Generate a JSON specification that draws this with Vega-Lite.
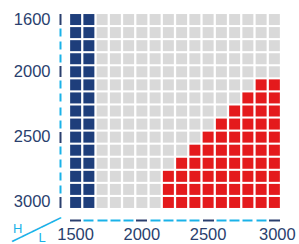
{
  "$schema": "https://vega.github.io/schema/vega-lite/v6.json",
  "width": 212,
  "height": 196,
  "autosize": "none",
  "padding": {"left": 69, "top": 13, "right": 18, "bottom": 35},
  "background": "white",
  "config": {"view": {"stroke": null}},
  "title": {"text": "H", "orient": "bottom", "anchor": "start", "frame": "group", "font": "Liberation Sans", "fontSize": 13, "fontWeight": "normal", "color": "#1ab2e8", "dx": -56, "dy": -27, "offset": 0},
  "data": {"values": [
{"L":1500,"H":1600,"c":"b"},{"L":1600,"H":1600,"c":"b"},{"L":1700,"H":1600,"c":"g"},{"L":1800,"H":1600,"c":"g"},{"L":1900,"H":1600,"c":"g"},{"L":2000,"H":1600,"c":"g"},{"L":2100,"H":1600,"c":"g"},{"L":2200,"H":1600,"c":"g"},{"L":2300,"H":1600,"c":"g"},{"L":2400,"H":1600,"c":"g"},{"L":2500,"H":1600,"c":"g"},{"L":2600,"H":1600,"c":"g"},{"L":2700,"H":1600,"c":"g"},{"L":2800,"H":1600,"c":"g"},{"L":2900,"H":1600,"c":"g"},{"L":3000,"H":1600,"c":"g"},
{"L":1500,"H":1700,"c":"b"},{"L":1600,"H":1700,"c":"b"},{"L":1700,"H":1700,"c":"g"},{"L":1800,"H":1700,"c":"g"},{"L":1900,"H":1700,"c":"g"},{"L":2000,"H":1700,"c":"g"},{"L":2100,"H":1700,"c":"g"},{"L":2200,"H":1700,"c":"g"},{"L":2300,"H":1700,"c":"g"},{"L":2400,"H":1700,"c":"g"},{"L":2500,"H":1700,"c":"g"},{"L":2600,"H":1700,"c":"g"},{"L":2700,"H":1700,"c":"g"},{"L":2800,"H":1700,"c":"g"},{"L":2900,"H":1700,"c":"g"},{"L":3000,"H":1700,"c":"g"},
{"L":1500,"H":1800,"c":"b"},{"L":1600,"H":1800,"c":"b"},{"L":1700,"H":1800,"c":"g"},{"L":1800,"H":1800,"c":"g"},{"L":1900,"H":1800,"c":"g"},{"L":2000,"H":1800,"c":"g"},{"L":2100,"H":1800,"c":"g"},{"L":2200,"H":1800,"c":"g"},{"L":2300,"H":1800,"c":"g"},{"L":2400,"H":1800,"c":"g"},{"L":2500,"H":1800,"c":"g"},{"L":2600,"H":1800,"c":"g"},{"L":2700,"H":1800,"c":"g"},{"L":2800,"H":1800,"c":"g"},{"L":2900,"H":1800,"c":"g"},{"L":3000,"H":1800,"c":"g"},
{"L":1500,"H":1900,"c":"b"},{"L":1600,"H":1900,"c":"b"},{"L":1700,"H":1900,"c":"g"},{"L":1800,"H":1900,"c":"g"},{"L":1900,"H":1900,"c":"g"},{"L":2000,"H":1900,"c":"g"},{"L":2100,"H":1900,"c":"g"},{"L":2200,"H":1900,"c":"g"},{"L":2300,"H":1900,"c":"g"},{"L":2400,"H":1900,"c":"g"},{"L":2500,"H":1900,"c":"g"},{"L":2600,"H":1900,"c":"g"},{"L":2700,"H":1900,"c":"g"},{"L":2800,"H":1900,"c":"g"},{"L":2900,"H":1900,"c":"g"},{"L":3000,"H":1900,"c":"g"},
{"L":1500,"H":2000,"c":"b"},{"L":1600,"H":2000,"c":"b"},{"L":1700,"H":2000,"c":"g"},{"L":1800,"H":2000,"c":"g"},{"L":1900,"H":2000,"c":"g"},{"L":2000,"H":2000,"c":"g"},{"L":2100,"H":2000,"c":"g"},{"L":2200,"H":2000,"c":"g"},{"L":2300,"H":2000,"c":"g"},{"L":2400,"H":2000,"c":"g"},{"L":2500,"H":2000,"c":"g"},{"L":2600,"H":2000,"c":"g"},{"L":2700,"H":2000,"c":"g"},{"L":2800,"H":2000,"c":"g"},{"L":2900,"H":2000,"c":"g"},{"L":3000,"H":2000,"c":"g"},
{"L":1500,"H":2100,"c":"b"},{"L":1600,"H":2100,"c":"b"},{"L":1700,"H":2100,"c":"g"},{"L":1800,"H":2100,"c":"g"},{"L":1900,"H":2100,"c":"g"},{"L":2000,"H":2100,"c":"g"},{"L":2100,"H":2100,"c":"g"},{"L":2200,"H":2100,"c":"g"},{"L":2300,"H":2100,"c":"g"},{"L":2400,"H":2100,"c":"g"},{"L":2500,"H":2100,"c":"g"},{"L":2600,"H":2100,"c":"g"},{"L":2700,"H":2100,"c":"g"},{"L":2800,"H":2100,"c":"g"},{"L":2900,"H":2100,"c":"r"},{"L":3000,"H":2100,"c":"r"},
{"L":1500,"H":2200,"c":"b"},{"L":1600,"H":2200,"c":"b"},{"L":1700,"H":2200,"c":"g"},{"L":1800,"H":2200,"c":"g"},{"L":1900,"H":2200,"c":"g"},{"L":2000,"H":2200,"c":"g"},{"L":2100,"H":2200,"c":"g"},{"L":2200,"H":2200,"c":"g"},{"L":2300,"H":2200,"c":"g"},{"L":2400,"H":2200,"c":"g"},{"L":2500,"H":2200,"c":"g"},{"L":2600,"H":2200,"c":"g"},{"L":2700,"H":2200,"c":"g"},{"L":2800,"H":2200,"c":"r"},{"L":2900,"H":2200,"c":"r"},{"L":3000,"H":2200,"c":"r"},
{"L":1500,"H":2300,"c":"b"},{"L":1600,"H":2300,"c":"b"},{"L":1700,"H":2300,"c":"g"},{"L":1800,"H":2300,"c":"g"},{"L":1900,"H":2300,"c":"g"},{"L":2000,"H":2300,"c":"g"},{"L":2100,"H":2300,"c":"g"},{"L":2200,"H":2300,"c":"g"},{"L":2300,"H":2300,"c":"g"},{"L":2400,"H":2300,"c":"g"},{"L":2500,"H":2300,"c":"g"},{"L":2600,"H":2300,"c":"g"},{"L":2700,"H":2300,"c":"r"},{"L":2800,"H":2300,"c":"r"},{"L":2900,"H":2300,"c":"r"},{"L":3000,"H":2300,"c":"r"},
{"L":1500,"H":2400,"c":"b"},{"L":1600,"H":2400,"c":"b"},{"L":1700,"H":2400,"c":"g"},{"L":1800,"H":2400,"c":"g"},{"L":1900,"H":2400,"c":"g"},{"L":2000,"H":2400,"c":"g"},{"L":2100,"H":2400,"c":"g"},{"L":2200,"H":2400,"c":"g"},{"L":2300,"H":2400,"c":"g"},{"L":2400,"H":2400,"c":"g"},{"L":2500,"H":2400,"c":"g"},{"L":2600,"H":2400,"c":"r"},{"L":2700,"H":2400,"c":"r"},{"L":2800,"H":2400,"c":"r"},{"L":2900,"H":2400,"c":"r"},{"L":3000,"H":2400,"c":"r"},
{"L":1500,"H":2500,"c":"b"},{"L":1600,"H":2500,"c":"b"},{"L":1700,"H":2500,"c":"g"},{"L":1800,"H":2500,"c":"g"},{"L":1900,"H":2500,"c":"g"},{"L":2000,"H":2500,"c":"g"},{"L":2100,"H":2500,"c":"g"},{"L":2200,"H":2500,"c":"g"},{"L":2300,"H":2500,"c":"g"},{"L":2400,"H":2500,"c":"g"},{"L":2500,"H":2500,"c":"r"},{"L":2600,"H":2500,"c":"r"},{"L":2700,"H":2500,"c":"r"},{"L":2800,"H":2500,"c":"r"},{"L":2900,"H":2500,"c":"r"},{"L":3000,"H":2500,"c":"r"},
{"L":1500,"H":2600,"c":"b"},{"L":1600,"H":2600,"c":"b"},{"L":1700,"H":2600,"c":"g"},{"L":1800,"H":2600,"c":"g"},{"L":1900,"H":2600,"c":"g"},{"L":2000,"H":2600,"c":"g"},{"L":2100,"H":2600,"c":"g"},{"L":2200,"H":2600,"c":"g"},{"L":2300,"H":2600,"c":"g"},{"L":2400,"H":2600,"c":"r"},{"L":2500,"H":2600,"c":"r"},{"L":2600,"H":2600,"c":"r"},{"L":2700,"H":2600,"c":"r"},{"L":2800,"H":2600,"c":"r"},{"L":2900,"H":2600,"c":"r"},{"L":3000,"H":2600,"c":"r"},
{"L":1500,"H":2700,"c":"b"},{"L":1600,"H":2700,"c":"b"},{"L":1700,"H":2700,"c":"g"},{"L":1800,"H":2700,"c":"g"},{"L":1900,"H":2700,"c":"g"},{"L":2000,"H":2700,"c":"g"},{"L":2100,"H":2700,"c":"g"},{"L":2200,"H":2700,"c":"g"},{"L":2300,"H":2700,"c":"r"},{"L":2400,"H":2700,"c":"r"},{"L":2500,"H":2700,"c":"r"},{"L":2600,"H":2700,"c":"r"},{"L":2700,"H":2700,"c":"r"},{"L":2800,"H":2700,"c":"r"},{"L":2900,"H":2700,"c":"r"},{"L":3000,"H":2700,"c":"r"},
{"L":1500,"H":2800,"c":"b"},{"L":1600,"H":2800,"c":"b"},{"L":1700,"H":2800,"c":"g"},{"L":1800,"H":2800,"c":"g"},{"L":1900,"H":2800,"c":"g"},{"L":2000,"H":2800,"c":"g"},{"L":2100,"H":2800,"c":"g"},{"L":2200,"H":2800,"c":"r"},{"L":2300,"H":2800,"c":"r"},{"L":2400,"H":2800,"c":"r"},{"L":2500,"H":2800,"c":"r"},{"L":2600,"H":2800,"c":"r"},{"L":2700,"H":2800,"c":"r"},{"L":2800,"H":2800,"c":"r"},{"L":2900,"H":2800,"c":"r"},{"L":3000,"H":2800,"c":"r"},
{"L":1500,"H":2900,"c":"b"},{"L":1600,"H":2900,"c":"b"},{"L":1700,"H":2900,"c":"g"},{"L":1800,"H":2900,"c":"g"},{"L":1900,"H":2900,"c":"g"},{"L":2000,"H":2900,"c":"g"},{"L":2100,"H":2900,"c":"g"},{"L":2200,"H":2900,"c":"r"},{"L":2300,"H":2900,"c":"r"},{"L":2400,"H":2900,"c":"r"},{"L":2500,"H":2900,"c":"r"},{"L":2600,"H":2900,"c":"r"},{"L":2700,"H":2900,"c":"r"},{"L":2800,"H":2900,"c":"r"},{"L":2900,"H":2900,"c":"r"},{"L":3000,"H":2900,"c":"r"},
{"L":1500,"H":3000,"c":"b"},{"L":1600,"H":3000,"c":"b"},{"L":1700,"H":3000,"c":"g"},{"L":1800,"H":3000,"c":"g"},{"L":1900,"H":3000,"c":"g"},{"L":2000,"H":3000,"c":"g"},{"L":2100,"H":3000,"c":"g"},{"L":2200,"H":3000,"c":"r"},{"L":2300,"H":3000,"c":"r"},{"L":2400,"H":3000,"c":"r"},{"L":2500,"H":3000,"c":"r"},{"L":2600,"H":3000,"c":"r"},{"L":2700,"H":3000,"c":"r"},{"L":2800,"H":3000,"c":"r"},{"L":2900,"H":3000,"c":"r"},{"L":3000,"H":3000,"c":"r"}
  ]},
  "mark": {"type": "rect"},
  "encoding": {
    "x": {
      "field": "L", "type": "ordinal",
      "scale": {"paddingInner": 0.17, "paddingOuter": 0.085},
      "axis": {
        "orient": "bottom", "offset": 10, "domain": false,
        "tickSize": 2,
        "tickWidth": {"condition": {"test": "datum.value % 500 == 0", "value": 11}, "value": 10},
        "tickColor": {"condition": {"test": "datum.value % 500 == 0", "value": "#2a3f6e"}, "value": "#1ab2e8"},
        "labelExpr": "datum.value % 500 == 0 ? datum.label : ''",
        "labelOffset": {"condition": {"test": "datum.value == 3000", "value": 3}, "value": 0},
        "labelAngle": 0, "labelFont": "Liberation Sans", "labelFontSize": 16.5, "labelColor": "#2a3f6e",
        "labelPadding": 5, "labelOverlap": false, "labelBound": false,
        "title": "L", "titleFont": "Liberation Sans", "titleFontSize": 13, "titleFontWeight": "normal", "titleColor": "#1ab2e8",
        "titleX": -31, "titleY": 22, "titleAlign": "left", "titleBaseline": "alphabetic", "titleAngle": 0
      }
    },
    "y": {
      "field": "H", "type": "ordinal",
      "scale": {"paddingInner": 0.158, "paddingOuter": 0.079},
      "axis": {
        "orient": "left", "offset": 8, "domain": false,
        "tickSize": 2,
        "tickWidth": {"condition": {"test": "datum.value % 500 == 0 || datum.value == 1600", "value": 11}, "value": 8},
        "tickColor": {"condition": {"test": "datum.value % 500 == 0 || datum.value == 1600", "value": "#2a3f6e"}, "value": "#1ab2e8"},
        "labelExpr": "datum.value % 500 == 0 || datum.value == 1600 ? datum.label : ''",
        "labelFont": "Liberation Sans", "labelFontSize": 16.5, "labelColor": "#2a3f6e",
        "labelPadding": 9, "labelOverlap": false, "labelBound": false,
        "title": "─────", "titleFont": "DejaVu Sans", "titleFontSize": 18, "titleFontWeight": "normal", "titleColor": "#1ab2e8",
        "titleX": -49, "titleY": 229, "titleAlign": "left", "titleBaseline": "middle", "titleAngle": -26
      }
    },
    "color": {
      "field": "c", "type": "nominal",
      "scale": {"domain": ["b", "g", "r"], "range": ["#1e3e7b", "#d9d9d9", "#e41a1c"]},
      "legend": null
    }
  }
}
